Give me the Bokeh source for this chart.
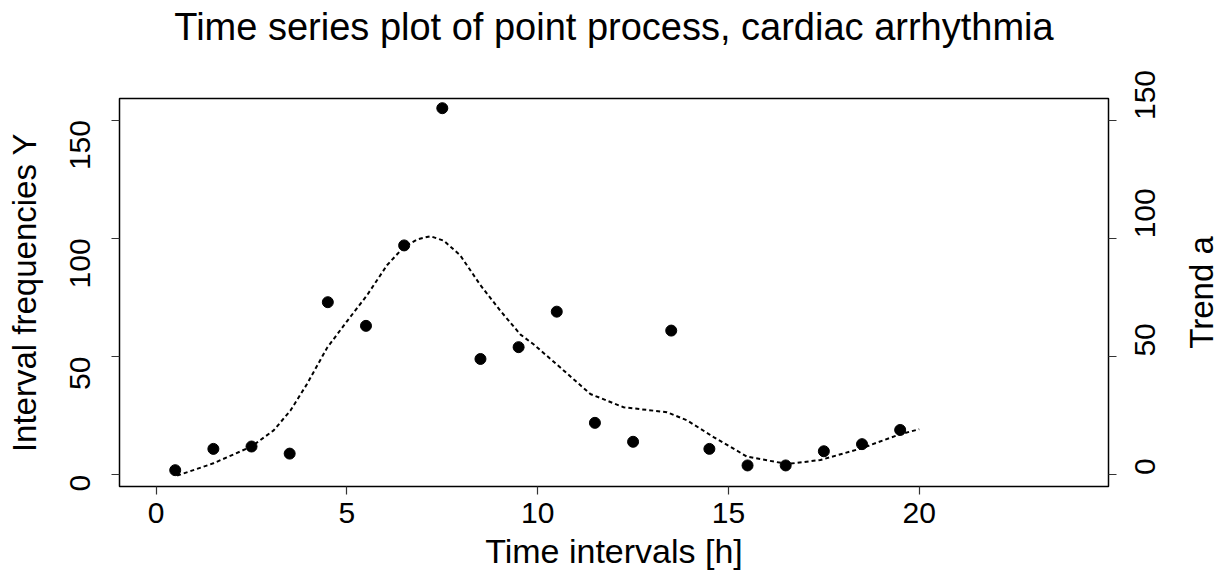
import math
from bokeh.plotting import figure
from bokeh.layouts import row, column
from bokeh.models import Range1d, LinearAxis, FixedTicker
from bokeh.core.properties import value
from bokeh.embed import file_html
from bokeh.resources import INLINE

# ---- data ----
hours = [0.5, 1.5, 2.5, 3.5, 4.5, 5.5, 6.5, 7.5, 8.5, 9.5,
         10.5, 11.5, 12.5, 13.5, 14.5, 15.5, 16.5, 17.5, 18.5, 19.5]
counts = [2, 11, 12, 9, 73, 63, 97, 155, 49, 54,
          69, 22, 14, 61, 11, 4, 4, 10, 13, 19]

trend_x = [0.55, 1.5, 2.5, 3.08, 3.52, 3.95, 4.48, 5.0, 5.53, 6.05,
           6.49, 6.85, 7.19, 7.54, 7.97, 8.5, 9.02, 9.55, 9.9, 10.6,
           11.38, 12.25, 13.39, 13.92, 14.61, 15.49, 16.54, 17.41, 18.46, 19.5, 20.0]
trend_y = [-0.3, 4.9, 12.0, 18.8, 27.2, 38.3, 53.7, 64.9, 76.0, 88.6,
           96.3, 99.6, 100.9, 99.0, 92.8, 80.2, 69.4, 59.3, 55.1, 45.3,
           34.2, 28.6, 26.5, 23.0, 16.0, 7.7, 4.6, 6.3, 11.1, 17.2, 19.3]

x_ticks = [0, 5, 10, 15, 20]
y_ticks = [0, 50, 100, 150]

title_text = "Time series plot of point process, cardiac arrhythmia"
x_label = "Time intervals [h]"
y_label = "Interval frequencies Y"
y2_label = "Trend a"

FONT = "Liberation Sans"
TICK_PX = "30px"
LAB_PX = "33px"

X0, X1 = -0.96, 24.96
Y0, Y1 = -4.9, 159.1
W_MAIN, W_SIDE = 1180, 44
W_ALL = W_MAIN + W_SIDE
H_TITLE, H_MAIN = 48, 524
LEFT, TOP, RIGHT, BOTTOM = 119, 50, 72, 82


def bare(fig):
    fig.grid.visible = False
    fig.outline_line_color = None
    fig.background_fill_color = "white"
    fig.border_fill_color = "white"


# ---- title strip ----
pt = figure(width=W_ALL, height=H_TITLE, output_backend="svg", toolbar_location=None,
            x_range=Range1d(0, W_ALL), y_range=Range1d(H_TITLE, 0),
            min_border_left=0, min_border_right=0, min_border_top=0,
            min_border_bottom=0, x_axis_location=None, y_axis_location=None)
bare(pt)
frame_center = LEFT + (W_MAIN - LEFT - RIGHT) / 2
pt.text(x=[frame_center], y=[26.5], text=[title_text],
        text_align="center", text_baseline="middle",
        text_font=value(FONT), text_font_size="38px", text_color="black")

# ---- main plot ----
p = figure(width=W_MAIN, height=H_MAIN, output_backend="svg", toolbar_location=None,
           x_range=Range1d(X0, X1), y_range=Range1d(Y0, Y1),
           min_border_left=LEFT, min_border_right=RIGHT, min_border_top=TOP,
           min_border_bottom=BOTTOM, x_axis_location=None, y_axis_location=None)
bare(p)
p.outline_line_color = "black"
p.outline_line_width = 1.5


def style_axis(ax, standoff, label_standoff):
    ax.axis_line_color = None
    ax.major_tick_line_color = "#333333"
    ax.major_tick_line_width = 1.2
    ax.major_tick_out = 8
    ax.major_tick_in = 0
    ax.minor_tick_line_color = None
    ax.major_label_text_font = FONT
    ax.major_label_text_font_size = TICK_PX
    ax.major_label_text_color = "black"
    ax.major_label_standoff = standoff
    ax.axis_label_text_font = FONT
    ax.axis_label_text_font_size = LAB_PX
    ax.axis_label_text_font_style = "normal"
    ax.axis_label_text_color = "black"
    ax.axis_label_standoff = label_standoff


xa = LinearAxis(ticker=FixedTicker(ticks=x_ticks), axis_label=x_label)
style_axis(xa, 8, 6)
xa.axis_label_text_font_size = "34px"
p.add_layout(xa, "below")

ya = LinearAxis(ticker=FixedTicker(ticks=y_ticks), axis_label=y_label)
style_axis(ya, 31, 15)
ya.major_label_orientation = math.pi / 2
p.add_layout(ya, "left")

ya2 = LinearAxis(ticker=FixedTicker(ticks=y_ticks))
style_axis(ya2, 29, 0)
ya2.major_label_orientation = math.pi / 2
p.add_layout(ya2, "right")

p.line(trend_x, trend_y, line_color="black", line_width=2, line_dash="4 3")
p.scatter(hours, counts, size=11, marker="circle", fill_color="black", line_color="black")

# ---- side strip carrying the right-hand axis title ----
p2 = figure(width=W_SIDE, height=H_MAIN, output_backend="svg", toolbar_location=None,
            x_range=Range1d(0, W_SIDE), y_range=p.y_range,
            min_border_left=0, min_border_right=0, min_border_top=TOP,
            min_border_bottom=BOTTOM, x_axis_location=None, y_axis_location=None)
bare(p2)
p2.text(x=[21], y=[(Y0 + Y1) / 2], text=[y2_label], angle=math.pi / 2,
        text_align="center", text_baseline="middle",
        text_font=value(FONT), text_font_size="33px", text_color="black")

layout = column(pt, row(p, p2, spacing=0), spacing=0)
open("out.html", "w").write(file_html(layout, INLINE))
